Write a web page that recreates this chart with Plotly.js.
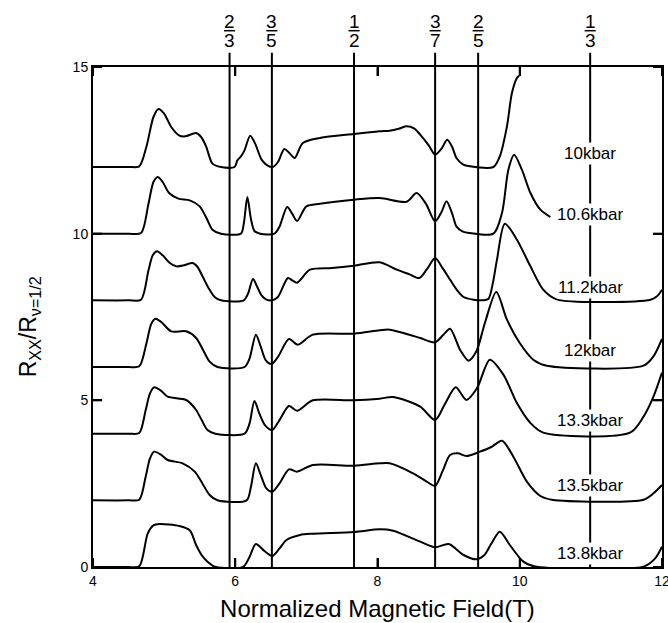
<!DOCTYPE html>
<html>
<head>
<meta charset="utf-8">
<script src="https://cdn.plot.ly/plotly-3.0.1.min.js"></script>
<style>html,body{margin:0;padding:0;background:#fff;}</style>
</head>
<body>
<div id="chart" style="width:668px;height:623px;"></div>
<script>
// Filling-factor markers (x positions in T) and fraction labels
const fracX = [5.92, 6.515, 7.67, 8.81, 9.415, 10.99];
const fracNum = ['2', '3', '1', '3', '2', '1'];
const fracDen = ['3', '5', '2', '7', '5', '3'];

// Curve labels
const pressureLabels = ['10kbar', '10.6kbar', '11.2kbar', '12kbar', '13.3kbar', '13.5kbar', '13.8kbar'];
const labelY = [12.42, 10.57, 8.40, 6.5, 4.39, 2.46, 0.41];

// Curves (offset traces)
const x10 = [4.0, 4.5, 4.65, 4.75, 4.85, 4.92, 5.0, 5.1, 5.215, 5.3, 5.45, 5.52, 5.59, 5.68, 5.8, 5.99, 6.03, 6.08, 6.13, 6.21, 6.28, 6.37, 6.45, 6.53, 6.6, 6.69, 6.76, 6.835, 6.95, 7.19, 7.67, 8.03, 8.17, 8.3, 8.41, 8.52, 8.6, 8.72, 8.81, 8.9, 8.98, 9.05, 9.11, 9.2, 9.30, 9.63, 9.72, 9.82, 9.89, 9.96, 9.99];
const y10 = [12, 12, 12.02, 12.6, 13.5, 13.74, 13.6, 13.2, 12.94, 12.92, 13.02, 12.9, 12.62, 12.1, 12.0, 12.0, 12.2, 12.32, 12.5, 12.94, 12.7, 12.22, 12.05, 12.0, 12.15, 12.54, 12.42, 12.27, 12.72, 12.87, 12.99, 13.07, 13.09, 13.15, 13.22, 13.15, 12.97, 12.65, 12.37, 12.55, 12.82, 12.6, 12.27, 12.08, 12.02, 12.0, 12.32, 13.22, 14.22, 14.67, 14.74];

const x106 = [4.0, 4.5, 4.675, 4.78, 4.85, 4.91, 4.98, 5.07, 5.2, 5.36, 5.5, 5.6, 5.68, 5.8, 6.08, 6.12, 6.17, 6.22, 6.27, 6.35, 6.55, 6.62, 6.73, 6.8, 6.87, 7.0, 7.19, 7.67, 8.03, 8.41, 8.55, 8.68, 8.81, 8.9, 8.97, 9.05, 9.11, 9.2, 9.30, 9.63, 9.75, 9.84, 9.92, 10.03, 10.15, 10.29, 10.43];
const y106 = [10, 10, 10.02, 10.9, 11.55, 11.70, 11.55, 11.22, 11.05, 11.0, 10.82, 10.45, 10.12, 10.0, 10.0, 10.3, 11.1, 10.45, 10.08, 10.0, 10.0, 10.2, 10.8, 10.6, 10.38, 10.82, 10.9, 11.02, 11.07, 10.96, 11.22, 10.9, 10.37, 10.65, 10.97, 10.6, 10.22, 10.06, 10.02, 10.0, 10.62, 11.92, 12.37, 11.92, 11.22, 10.72, 10.5];

const x112 = [4.0, 4.5, 4.675, 4.78, 4.84, 4.90, 4.98, 5.08, 5.17, 5.28, 5.40, 5.47, 5.54, 5.63, 5.71, 5.8, 6.12, 6.18, 6.25, 6.31, 6.37, 6.44, 6.52, 6.6, 6.74, 6.8, 6.87, 7.05, 7.36, 7.67, 8.03, 8.27, 8.45, 8.59, 8.7, 8.81, 8.92, 9.02, 9.12, 9.21, 9.35, 9.46, 9.56, 9.62, 9.68, 9.79, 9.96, 10.15, 10.33, 10.52, 11.84, 11.93, 12.0];
const y112 = [8, 8, 8.02, 8.9, 9.35, 9.47, 9.35, 9.12, 9.02, 9.05, 9.12, 9.0, 8.72, 8.35, 8.10, 8.0, 8.0, 8.2, 8.64, 8.4, 8.15, 8.02, 8.0, 8.1, 8.67, 8.6, 8.53, 8.92, 8.97, 9.04, 9.14, 8.92, 8.78, 8.67, 8.95, 9.27, 8.95, 8.62, 8.3, 8.10, 8.02, 8.0, 8.05, 8.5, 9.22, 10.3, 9.82, 9.02, 8.32, 8.03, 8.02, 8.12, 8.32];

const x12 = [4.0, 4.5, 4.65, 4.75, 4.82, 4.88, 4.96, 5.10, 5.31, 5.45, 5.55, 5.64, 5.75, 6.13, 6.2, 6.29, 6.36, 6.43, 6.51, 6.6, 6.755, 6.88, 7.09, 7.67, 8.03, 8.17, 8.4, 8.6, 8.81, 8.92, 9.02, 9.16, 9.28, 9.39, 9.51, 9.67, 9.82, 10.0, 10.19, 10.38, 11.74, 11.88, 12.0];
const y12 = [6, 6, 6.02, 6.7, 7.3, 7.45, 7.35, 7.07, 7.07, 6.87, 6.5, 6.16, 6.0, 6.0, 6.25, 6.97, 6.6, 6.2, 6.09, 6.3, 6.84, 6.67, 6.97, 7.0, 7.1, 7.12, 7.0, 6.87, 6.74, 6.95, 7.15, 6.52, 6.19, 6.47, 7.32, 8.25, 7.42, 6.72, 6.22, 6.04, 6.04, 6.32, 6.84];

const x133 = [4.0, 4.5, 4.65, 4.74, 4.8, 4.86, 4.95, 5.05, 5.31, 5.45, 5.53, 5.61, 5.72, 6.13, 6.2, 6.27, 6.34, 6.42, 6.52, 6.62, 6.755, 6.87, 7.09, 7.67, 8.03, 8.22, 8.6, 8.81, 8.95, 9.10, 9.25, 9.40, 9.58, 9.77, 9.96, 10.15, 10.33, 11.55, 11.74, 11.88, 12.0];
const y133 = [4, 4, 4.02, 4.7, 5.2, 5.39, 5.3, 5.11, 5.01, 4.71, 4.4, 4.11, 4.0, 4.0, 4.3, 4.98, 4.6, 4.25, 4.11, 4.4, 4.83, 4.69, 5.0, 5.0, 5.05, 5.1, 4.81, 4.41, 4.9, 5.39, 5.01, 5.37, 6.22, 5.77, 4.92, 4.32, 4.03, 4.03, 4.51, 5.11, 5.83];

const x135 = [4.0, 4.5, 4.65, 4.74, 4.8, 4.86, 4.95, 5.05, 5.26, 5.43, 5.54, 5.64, 5.75, 6.16, 6.22, 6.29, 6.36, 6.44, 6.52, 6.62, 6.755, 6.87, 7.09, 7.67, 8.03, 8.17, 8.5, 8.7, 8.81, 8.92, 9.02, 9.13, 9.25, 9.44, 9.6, 9.75, 9.91, 10.1, 10.29, 10.45, 11.74, 11.88, 12.0];
const y135 = [2, 2, 2.02, 2.7, 3.25, 3.46, 3.38, 3.21, 3.11, 2.86, 2.5, 2.16, 2.0, 2.0, 2.4, 3.11, 2.75, 2.35, 2.26, 2.5, 2.93, 2.86, 3.06, 3.04, 3.11, 3.11, 2.81, 2.55, 2.43, 2.9, 3.36, 3.41, 3.33, 3.46, 3.6, 3.79, 3.31, 2.56, 2.13, 2.02, 2.02, 2.21, 2.46];

const x138 = [4.0, 4.5, 4.65, 4.77, 4.85, 4.93, 5.215, 5.36, 5.45, 5.53, 5.61, 5.7, 6.11, 6.2, 6.29, 6.4, 6.52, 6.62, 6.72, 6.91, 7.09, 7.67, 8.03, 8.22, 8.6, 8.81, 9.0, 9.21, 9.39, 9.5, 9.6, 9.72, 9.86, 10.05, 10.2, 11.75, 11.9, 12.0];
const y138 = [0, 0, 0.02, 1.01, 1.25, 1.29, 1.23, 1.1, 0.66, 0.35, 0.16, 0.02, 0.0, 0.3, 0.69, 0.5, 0.33, 0.55, 0.81, 0.96, 1.0, 1.05, 1.13, 1.09, 0.76, 0.59, 0.69, 0.36, 0.23, 0.35, 0.7, 1.06, 0.66, 0.16, 0.02, 0.02, 0.25, 0.61];

const xTicks = [4, 6, 8, 10, 12];
const yTicks = [0, 5, 10, 15];

const curvesX = [x10, x106, x112, x12, x133, x135, x138];
const curvesY = [y10, y106, y112, y12, y133, y135, y138];

const FONT = 'Arial, "Liberation Sans", Helvetica, sans-serif';
const TICK_LEN_X = 0.018;   // fraction of plot height (~9px)
const TICK_LEN_Y = 0.016;   // fraction of plot width (~9px)

const traces = curvesX.map((xs, i) => ({
  x: xs, y: curvesY[i], type: 'scatter', mode: 'lines',
  name: pressureLabels[i],
  line: {color: '#000', width: 2, shape: 'spline', smoothing: 0.8},
  hoverinfo: 'x+y+name', showlegend: false
}));

const shapes = [];
const annotations = [];

// Inward tick marks on all four sides, placed at the tick values
xTicks.forEach(t => {
  shapes.push({type: 'line', xref: 'x', yref: 'paper', x0: t, x1: t, y0: 0, y1: TICK_LEN_X, line: {color: '#000', width: 2}});
  shapes.push({type: 'line', xref: 'x', yref: 'paper', x0: t, x1: t, y0: 1, y1: 1 - TICK_LEN_X, line: {color: '#000', width: 2}});
});
yTicks.forEach(t => {
  shapes.push({type: 'line', xref: 'paper', yref: 'y', x0: 0, x1: TICK_LEN_Y, y0: t, y1: t, line: {color: '#000', width: 2}});
  shapes.push({type: 'line', xref: 'paper', yref: 'y', x0: 1, x1: 1 - TICK_LEN_Y, y0: t, y1: t, line: {color: '#000', width: 2}});
});

fracX.forEach((fx, i) => {
  shapes.push({type: 'line', xref: 'x', yref: 'paper', x0: fx, x1: fx, y0: 0, y1: 1.0286,
    line: {color: '#000', width: 2}, layer: 'above'});
  shapes.push({type: 'line', xref: 'x', yref: 'paper', x0: fx - 0.078, x1: fx + 0.078, y0: 1.0726, y1: 1.0726,
    line: {color: '#000', width: 1.5}});
  annotations.push({xref: 'x', yref: 'paper', x: fx, y: 1.0906, text: fracNum[i], showarrow: false,
    xanchor: 'center', yanchor: 'middle', font: {family: FONT, size: 19, color: '#000'}});
  annotations.push({xref: 'x', yref: 'paper', x: fx, y: 1.0524, text: fracDen[i], showarrow: false,
    xanchor: 'center', yanchor: 'middle', font: {family: FONT, size: 19, color: '#000'}});
});
pressureLabels.forEach((t, i) => {
  annotations.push({xref: 'x', yref: 'y', x: fracX[5], y: labelY[i], text: t, showarrow: false,
    xanchor: 'center', yanchor: 'middle', bgcolor: '#fff', borderpad: 1,
    font: {family: FONT, size: 17, color: '#000'}});
});

// Y-axis title, placed as a rotated annotation left of the tick labels
annotations.push({
  xref: 'paper', yref: 'paper', x: -0.112, y: 0.48, xanchor: 'center', yanchor: 'middle',
  textangle: -90, showarrow: false,
  text: 'R<sub>XX</sub>/R<sub>ν=1/2</sub>',
  font: {family: FONT, size: 23, color: '#000'}
});

const axisCommon = {
  tickmode: 'array',
  ticks: 'inside', ticklen: 9, tickwidth: 2, tickcolor: '#000',
  showline: true, linewidth: 2, linecolor: '#000', mirror: 'ticks',
  showgrid: false, zeroline: false, automargin: false,
  ticklabeloverflow: 'allow', layer: 'above traces'
};

const layout = {
  width: 668, height: 623,
  margin: {l: 93, r: 6, t: 67, b: 56, pad: 0},
  paper_bgcolor: '#fff', plot_bgcolor: '#fff',
  font: {family: FONT, color: '#000'},
  xaxis: Object.assign({}, axisCommon, {
    range: [4, 12], tickvals: xTicks, ticktext: xTicks.map(String),
    tickfont: {family: FONT, size: 14, color: '#000'},
    title: {text: 'Normalized Magnetic Field(T)', font: {family: FONT, size: 24, color: '#000'}, standoff: 12}
  }),
  yaxis: Object.assign({}, axisCommon, {
    range: [0, 15], tickvals: yTicks, ticktext: yTicks.map(String),
    tickfont: {family: FONT, size: 14, color: '#000'}
  }),
  shapes: shapes,
  annotations: annotations,
  showlegend: false
};

Plotly.newPlot('chart', traces, layout, {displayModeBar: false, responsive: false});
</script>
</body>
</html>
